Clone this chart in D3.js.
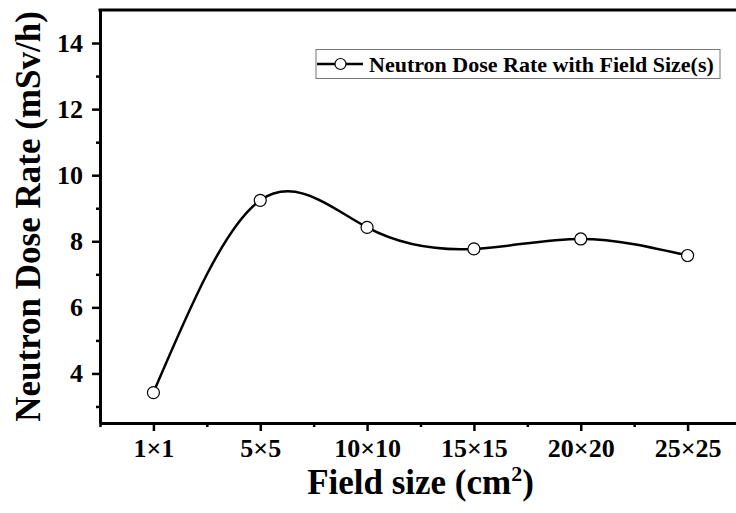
<!DOCTYPE html>
<html>
<head>
<meta charset="utf-8">
<script src="https://cdn.jsdelivr.net/npm/d3@7"></script>
<style>
	body { margin: 0; background: #fff; }
	svg { display: block; font-family: "Liberation Serif", "Times New Roman", serif; font-weight: bold; }
</style>
</head>
<body>
<div id="visual"></div>
<script>
// field sizes and measured neutron dose rate (mSv/h)
var fieldSizes = ["1×1", "5×5", "10×10", "15×15", "20×20", "25×25"];
var doseRates = [3.42, 9.24, 8.42, 7.77, 8.07, 7.57];
var yTicks = [4, 6, 8, 10, 12, 14];
var yMinorTicks = [3, 5, 7, 9, 11, 13];
var seriesName = "Neutron Dose Rate with Field Size(s)";

var width = 736, height = 513;
var margin = { left: 100, top: 10, right: 741, bottom: 423 };
var tickFont = 26;

var svg = d3.select("#visual")
	.append("svg")
	.attr("width", width)
	.attr("height", height);

var data = fieldSizes.map(function(d, i) { return { idx: i + 1, label: d, value: doseRates[i] }; });

var x = d3.scaleLinear()
	.domain([0.5, 6.5])
	.range([margin.left, margin.right]);
var y = d3.scaleLinear()
	.domain([2.5, 15])
	.range([margin.bottom, margin.top]);

// minor ticks first
svg.append("g")
	.attr("transform", "translate(0," + margin.bottom + ")")
	.call(d3.axisBottom(x).tickValues([0.5, 1.5, 2.5, 3.5, 4.5, 5.5, 6.5]).tickSize(4).tickFormat(""))
	.call(function(g) {
		g.select(".domain").remove();
		g.selectAll("line").attr("stroke", "#000").attr("stroke-width", 2.5);
	});
svg.append("g")
	.attr("transform", "translate(" + margin.left + ",0)")
	.call(d3.axisLeft(y).tickValues(yMinorTicks).tickSize(4).tickFormat(""))
	.call(function(g) {
		g.select(".domain").remove();
		g.selectAll("line").attr("stroke", "#000").attr("stroke-width", 2.5);
	});

// major ticks + labels
var xAxis = svg.append("g")
	.attr("transform", "translate(0," + margin.bottom + ")")
	.call(d3.axisBottom(x)
		.tickValues(data.map(function(d) { return d.idx; }))
		.tickFormat(function(d) { return fieldSizes[d - 1]; })
		.tickSize(8)
		.tickSizeOuter(0)
		.tickPadding(8))
	.attr("font-size", tickFont)
	.attr("font-family", "Liberation Serif, serif")
	.attr("font-weight", "bold");
xAxis.select(".domain").attr("stroke", "#000").attr("stroke-width", 3);
xAxis.selectAll("line").attr("stroke", "#000").attr("stroke-width", 2.5);
xAxis.selectAll("text").attr("fill", "#000");

var yAxis = svg.append("g")
	.attr("transform", "translate(" + margin.left + ",0)")
	.call(d3.axisLeft(y)
		.tickValues(yTicks)
		.tickSize(8)
		.tickSizeOuter(0)
		.tickPadding(9))
	.attr("font-size", tickFont)
	.attr("font-family", "Liberation Serif, serif")
	.attr("font-weight", "bold");
yAxis.select(".domain").attr("stroke", "#000").attr("stroke-width", 3);
yAxis.selectAll("line").attr("stroke", "#000").attr("stroke-width", 2.5);
yAxis.selectAll("text").attr("fill", "#000");

// top border
svg.append("line")
	.attr("x1", margin.left - 1.5)
	.attr("x2", margin.right)
	.attr("y1", margin.top)
	.attr("y2", margin.top)
	.attr("stroke", "#000")
	.attr("stroke-width", 3);

// spline through the points
var line = d3.line()
	.x(function(d) { return x(d.idx); })
	.y(function(d) { return y(d.value); })
	.curve(d3.curveNatural);

svg.append("path")
	.datum(data)
	.attr("d", line)
	.attr("fill", "none")
	.attr("stroke", "#000")
	.attr("stroke-width", 2.5);

svg.selectAll("circle.pt")
	.data(data)
	.enter()
	.append("circle")
	.attr("class", "pt")
	.attr("cx", function(d) { return x(d.idx); })
	.attr("cy", function(d) { return y(d.value); })
	.attr("r", 6)
	.attr("fill", "#fff")
	.attr("stroke", "#000")
	.attr("stroke-width", 1.2);

// axis titles
svg.append("text")
	.attr("transform", "translate(40," + ((margin.top + margin.bottom) / 2) + ") rotate(-90)")
	.attr("text-anchor", "middle")
	.style("font-size", "35px")
	.text("Neutron Dose Rate (mSv/h)");

var xTitle = svg.append("text")
	.attr("x", (margin.left + margin.right) / 2)
	.attr("y", 494)
	.attr("text-anchor", "middle")
	.style("font-size", "35px");
xTitle.append("tspan").text("Field size (cm");
xTitle.append("tspan").attr("dy", -13).style("font-size", "22px").text("2");
xTitle.append("tspan").attr("dy", 13).text(")");

// legend
var legend = svg.append("g");
legend.append("rect")
	.attr("x", 316)
	.attr("y", 49.5)
	.attr("width", 404)
	.attr("height", 29)
	.attr("fill", "#fff")
	.attr("stroke", "#777")
	.attr("stroke-width", 1);
legend.append("line")
	.attr("x1", 317)
	.attr("x2", 363)
	.attr("y1", 64)
	.attr("y2", 64)
	.attr("stroke", "#000")
	.attr("stroke-width", 2.5);
legend.append("circle")
	.attr("cx", 340.5)
	.attr("cy", 64)
	.attr("r", 5.5)
	.attr("fill", "#fff")
	.attr("stroke", "#000")
	.attr("stroke-width", 1.2);
legend.append("text")
	.attr("x", 369)
	.attr("y", 71.5)
	.style("font-size", "22px")
	.text(seriesName);
</script>
</body>
</html>
